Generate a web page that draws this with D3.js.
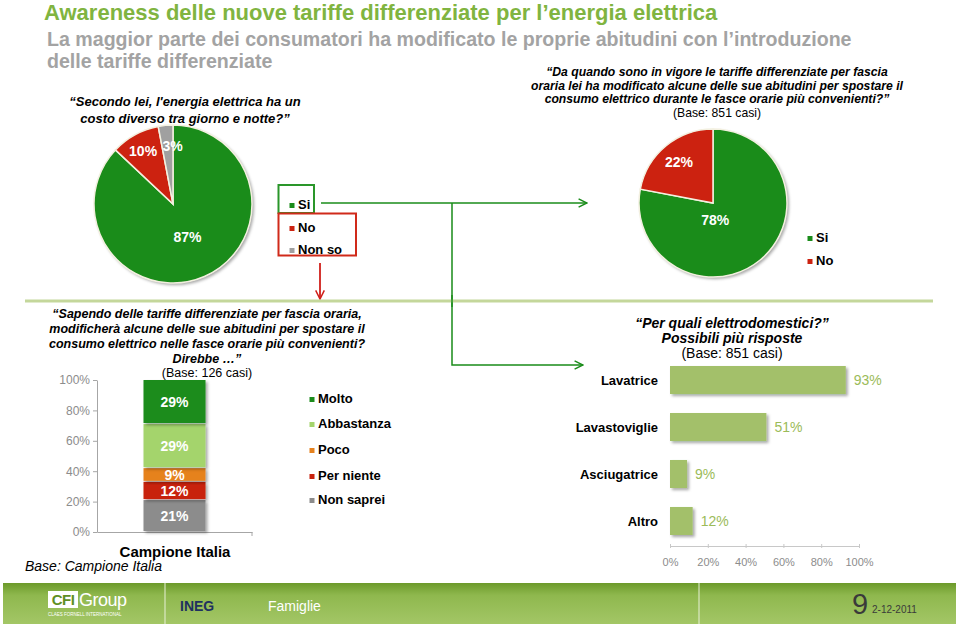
<!DOCTYPE html>
<html><head><meta charset="utf-8">
<script src="https://cdn.jsdelivr.net/npm/d3@7/dist/d3.min.js"></script>
<style>
body{margin:0;background:#fff;}
svg{display:block;font-family:"Liberation Sans",Arial,Helvetica,sans-serif;}
</style></head><body>
<svg id="c" width="959" height="627"></svg>
<script>
// ---- data ----
const pie1Labels = ["Si", "No", "Non so"];
const pie1Values = [87, 10, 3];
const pie2Labels = ["Si", "No"];
const pie2Values = [78, 22];
const stackCategory = ["Campione Italia"];
const stackLabels = ["Non saprei", "Per niente", "Poco", "Abbastanza", "Molto"];
const stackValues = [21, 12, 9, 29, 29];
const stackTicks = [0, 20, 40, 60, 80, 100];
const applianceLabels = ["Lavatrice", "Lavastoviglie", "Asciugatrice", "Altro"];
const applianceValues = [93, 51, 9, 12];
const applianceTicks = [0, 20, 40, 60, 80, 100];

const svg = d3.select("#c");
const defs = svg.append("defs");
const sh = defs.append("filter").attr("id","shadow").attr("x","-20%").attr("y","-20%").attr("width","150%").attr("height","150%");
sh.append("feDropShadow").attr("dx",2).attr("dy",2).attr("stdDeviation",1.5).attr("flood-color","#000").attr("flood-opacity",0.35);
const mk = (id,color,w)=>{
  defs.append("marker").attr("id",id).attr("viewBox","0 0 10 10").attr("refX",9).attr("refY",5)
   .attr("markerWidth",w).attr("markerHeight",w).attr("orient","auto-start-reverse").attr("markerUnits","strokeWidth")
   .append("path").attr("d","M1,1 L9,5 L1,9").attr("fill","none").attr("stroke",color).attr("stroke-width",1.4);
};
mk("arrG","#1a8c1a",7); mk("arrR","#d0201a",6);
const fg = defs.append("linearGradient").attr("id","foot").attr("x1",0).attr("x2",0).attr("y1",0).attr("y2",1);
fg.append("stop").attr("offset","0%").attr("stop-color","#6c9a2a");
fg.append("stop").attr("offset","30%").attr("stop-color","#8fb84e");
fg.append("stop").attr("offset","100%").attr("stop-color","#a3c666");

const GREEN="#1a8c1a", RED="#cc2210", GRAY="#a0a0a0";

// ---- titles ----
svg.append("text").attr("x",44).attr("y",20).attr("font-size",22).attr("font-weight","bold").attr("fill","#80b440")
  .text("Awareness delle nuove tariffe differenziate per l’energia elettrica");
svg.append("text").attr("x",47).attr("y",46).attr("font-size",19.6).attr("font-weight","bold").attr("fill","#a3a3a3")
  .text("La maggior parte dei consumatori ha modificato le proprie abitudini con l’introduzione");
svg.append("text").attr("x",47).attr("y",68).attr("font-size",19.6).attr("font-weight","bold").attr("fill","#a3a3a3")
  .text("delle tariffe differenziate");

function lines(x, ys, arr, size, style, weight){
  arr.forEach((t,i)=>svg.append("text").attr("x",x).attr("y",ys[i]).attr("text-anchor","middle")
    .attr("font-size",size).attr("font-style",style[i]).attr("font-weight",weight[i]).attr("fill","#000").text(t));
}
lines(185,[106,123],["“Secondo lei, l'energia elettrica ha un","costo diverso tra giorno e notte?”"],13,["italic","italic"],["bold","bold"]);
lines(717,[76,89.5,103,116.5],["“Da quando sono in vigore le tariffe differenziate per fascia","oraria lei ha modificato alcune delle sue abitudini per spostare il","consumo elettrico durante le fasce orarie più convenienti?”","(Base: 851 casi)"],12.2,["italic","italic","italic","normal"],["bold","bold","bold","normal"]);

// ---- pies ----
function drawPie(cx, cy, r, labels, values, colors, lblR, lblShift){
  const g = svg.append("g").attr("transform",`translate(${cx},${cy})`);
  const pie = d3.pie().sort(null).value(d=>d)(values);
  const arc = d3.arc().innerRadius(0).outerRadius(r);
  g.append("circle").attr("r",r).attr("fill","#fff").attr("filter","url(#shadow)");
  g.selectAll("path.s").data(pie).join("path").attr("d",arc).attr("fill",(d,i)=>colors[i])
   .attr("stroke","#f3f0e0").attr("stroke-width",1.5);
  g.selectAll("text.l").data(pie).join("text")
   .attr("transform",(d,i)=>{const c=d3.arc().innerRadius(r*lblR[i]).outerRadius(r*lblR[i]).centroid(d);return `translate(${c[0]+lblShift[i]},${c[1]})`;})
   .attr("text-anchor","middle").attr("dy","0.35em").attr("font-size",14).attr("font-weight","bold").attr("fill","#fff")
   .text(d=>d.data+"%");
}
drawPie(173,204,79,pie1Labels,pie1Values,[GREEN,RED,GRAY],[0.46,0.76,0.74],[0,-1,5]);
drawPie(713,203,74,pie2Labels,pie2Values,[GREEN,RED],[0.3,0.72],[-12,0]);

// legends for pies
function legend(x, ys, labels, colors, size){
  labels.forEach((t,i)=>{
    svg.append("rect").attr("x",x-2.5).attr("y",ys[i]-6).attr("width",5).attr("height",5).attr("fill",colors[i]);
    svg.append("text").attr("x",x+6).attr("y",ys[i]).attr("font-size",size).attr("font-weight","bold").text(t);
  });
}
legend(292,[209,232,254],pie1Labels,[GREEN,RED,GRAY],13);
legend(810,[242,265],pie2Labels,[GREEN,RED],13);

// boxes and connectors
svg.append("rect").attr("x",278.5).attr("y",185).attr("width",35.5).attr("height",28).attr("fill","none").attr("stroke","#2a962a").attr("stroke-width",2);
svg.append("rect").attr("x",278.5).attr("y",213.5).attr("width",77.5).attr("height",42).attr("fill","none").attr("stroke","#d02a1a").attr("stroke-width",2);
svg.append("line").attr("x1",321).attr("y1",203).attr("x2",587).attr("y2",203).attr("stroke",GREEN).attr("stroke-width",1.5).attr("marker-end","url(#arrG)");
svg.append("path").attr("d","M452,203 V365 H583").attr("fill","none").attr("stroke",GREEN).attr("stroke-width",1.5).attr("marker-end","url(#arrG)");
svg.append("line").attr("x1",320).attr("y1",263).attr("x2",320).attr("y2",299).attr("stroke","#d0201a").attr("stroke-width",1.8).attr("marker-end","url(#arrR)");

// separator
svg.append("line").attr("x1",25).attr("y1",301).attr("x2",933).attr("y2",301).attr("stroke","#c4d79b").attr("stroke-width",3);
svg.append("line").attr("x1",452).attr("y1",295).attr("x2",452).attr("y2",307).attr("stroke",GREEN).attr("stroke-width",1.5);

// ---- stacked column ----
lines(207,[317.5,332.5,347.5,362.5,377],["“Sapendo delle tariffe differenziate per fascia oraria,","modificherà alcune delle sue abitudini per spostare il","consumo elettrico nelle fasce orarie più convenienti?","Direbbe …”","(Base: 126 casi)"],12.5,["italic","italic","italic","italic","normal"],["bold","bold","bold","bold","normal"]);

const stackColors = ["#8c8c8c","#c8210d","#e6821e","#a4d46c","#1c8c1c"];
const yS = d3.scaleLinear().domain([0,100]).range([532,380]);
const xB = d3.scaleBand().domain(stackCategory).range([97,252]).paddingInner(0.6).paddingOuter(0.3);
const yAx = svg.append("g").attr("transform","translate(97,0)")
  .call(d3.axisLeft(yS).tickValues(stackTicks).tickFormat(d=>d+"%").tickSize(4).tickSizeOuter(0));
yAx.select(".domain").attr("stroke","#a6a6a6");
yAx.selectAll(".tick line").attr("stroke","#a6a6a6");
yAx.selectAll(".tick text").attr("fill","#8c8c8c").attr("font-size",12).attr("font-family","Liberation Sans, Arial");
const xAx = svg.append("g").attr("transform","translate(0,532)")
  .call(d3.axisBottom(xB).tickSize(0).tickFormat(""));
xAx.select(".domain").attr("stroke","#a6a6a6");
svg.append("line").attr("x1",252).attr("x2",252).attr("y1",532).attr("y2",536).attr("stroke","#a6a6a6");
let acc=0;
const segs = stackValues.map((v,i)=>{const s={v,i,y0:acc,y1:acc+v};acc+=v;return s;});
const sg = svg.append("g");
sg.selectAll("rect").data(segs).join("rect")
  .attr("x",xB(stackCategory[0])).attr("width",xB.bandwidth())
  .attr("y",d=>yS(d.y1)).attr("height",d=>yS(d.y0)-yS(d.y1)-1)
  .attr("fill",d=>stackColors[d.i]).attr("filter","url(#shadow)");
sg.selectAll("text").data(segs).join("text")
  .attr("x",xB(stackCategory[0])+xB.bandwidth()/2).attr("y",d=>yS((d.y0+d.y1)/2)).attr("dy","0.36em")
  .attr("text-anchor","middle").attr("font-size",14).attr("font-weight","bold").attr("fill","#fff").text(d=>d.v+"%");
svg.append("text").attr("x",175).attr("y",557).attr("text-anchor","middle").attr("font-size",15).attr("font-weight","bold").text(stackCategory[0]);
svg.append("text").attr("x",25).attr("y",571).attr("font-size",14).attr("font-style","italic").text("Base: Campione Italia");
// legend (top to bottom: Molto ... Non saprei)
const legOrder=[4,3,2,1,0];
legend(312,[403,428,454,480,504],legOrder.map(i=>stackLabels[i]),legOrder.map(i=>stackColors[i]),13);

// ---- horizontal bars ----
lines(732,[328,343,358],["“Per quali elettrodomestici?”","Possibili più risposte","(Base: 851 casi)"],14,["italic","italic","normal"],["bold","bold","normal"]);
const xH = d3.scaleLinear().domain([0,100]).range([670,859]);
const yH = d3.scaleBand().domain(applianceLabels).range([351.9,549.1]).paddingInner(0.404).paddingOuter(0.3);
const hg = svg.append("g");
hg.selectAll("rect").data(applianceValues).join("rect")
  .attr("x",xH(0)).attr("y",(d,i)=>yH(applianceLabels[i])).attr("width",d=>xH(d)-xH(0)).attr("height",yH.bandwidth())
  .attr("fill","#a3c06a").attr("filter","url(#shadow)");
hg.selectAll("text.v").data(applianceValues).join("text")
  .attr("x",d=>xH(d)+8).attr("y",(d,i)=>yH(applianceLabels[i])+yH.bandwidth()/2).attr("dy","0.36em")
  .attr("font-size",14).attr("fill","#9bbb59").text(d=>d+"%");
hg.selectAll("text.c").data(applianceLabels).join("text")
  .attr("x",658).attr("y",d=>yH(d)+yH.bandwidth()/2).attr("dy","0.36em").attr("text-anchor","end")
  .attr("font-size",13).attr("font-weight","bold").text(d=>d);
const hx = svg.append("g").attr("transform","translate(0,546)")
  .call(d3.axisBottom(xH).tickValues(applianceTicks).tickFormat(d=>d+"%").tickSize(4).tickSizeOuter(0).tickPadding(8));
hx.select(".domain").attr("stroke","#c8c8c8");
hx.selectAll(".tick line").attr("stroke","#c8c8c8").attr("transform","translate(0,-2)");
hx.selectAll(".tick text").attr("fill","#8c8c8c").attr("font-size",11).attr("font-family","Liberation Sans, Arial");

// ---- footer ----
svg.append("rect").attr("x",3).attr("y",583).attr("width",953).attr("height",41).attr("fill","url(#foot)");
svg.append("line").attr("x1",165).attr("x2",165).attr("y1",583).attr("y2",624).attr("stroke","#e8f0d8").attr("stroke-width",1);
svg.append("line").attr("x1",699).attr("x2",699).attr("y1",583).attr("y2",624).attr("stroke","#e8f0d8").attr("stroke-width",1);
svg.append("rect").attr("x",48).attr("y",591).attr("width",30).attr("height",17).attr("fill","#fff");
svg.append("text").attr("x",63).attr("y",605).attr("text-anchor","middle").attr("font-size",15).attr("font-weight","bold").attr("fill","#5f8f24").attr("letter-spacing",-0.5).text("CFI");
svg.append("text").attr("x",79).attr("y",606).attr("font-size",18).attr("fill","#fff").attr("letter-spacing",-0.5).text("Group");
svg.append("text").attr("x",48).attr("y",616).attr("font-size",4.5).attr("fill","#fff").text("CLAES FORNELL INTERNATIONAL");
svg.append("text").attr("x",180).attr("y",611).attr("font-size",14).attr("font-weight","bold").attr("fill","#1f3060").text("INEG");
svg.append("text").attr("x",268).attr("y",611).attr("font-size",14).attr("fill","#fff").text("Famiglie");
svg.append("text").attr("x",852).attr("y",614).attr("font-size",29).attr("fill","#3a3a3a").text("9");
svg.append("text").attr("x",872).attr("y",613).attr("font-size",10).attr("fill","#3a3a3a").text("2-12-2011");
</script></body></html>
